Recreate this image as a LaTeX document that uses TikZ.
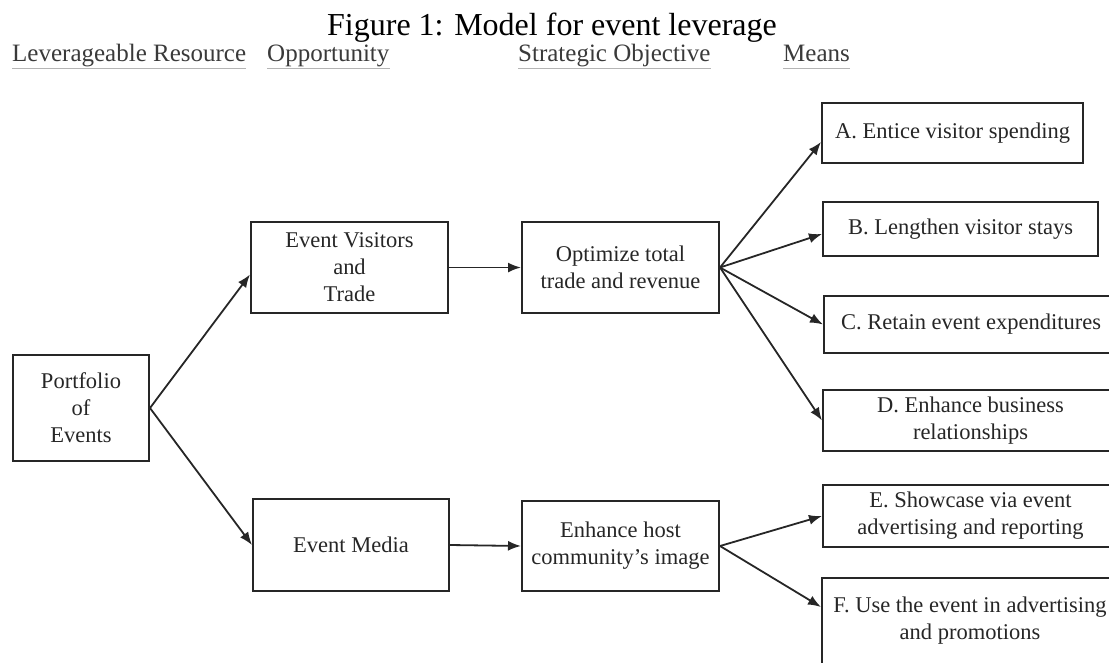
\documentclass[tikz,border=0pt]{standalone}
\usepackage{fontspec}
\setmainfont{Liberation Serif}
\usetikzlibrary{arrows.meta}
\definecolor{boxgray}{HTML}{262626}
\definecolor{headgray}{HTML}{3A3A3A}
\definecolor{rulegray}{HTML}{B4B4B4}

\begin{document}
\begin{tikzpicture}[x=1pt,y=-1pt]

      \useasboundingbox (0,0) rectangle (1109,662);
      \clip (0,0) rectangle (1109,662);

      \node[anchor=base,font=\fontsize{32}{36}\selectfont] (title) at (552,35) {Figure 1: Model for event leverage};

      \begin{scope}[every node/.style={anchor=base west,inner sep=0pt,text=headgray,font=\fontsize{25}{30}\selectfont}]
        \node (res)  at (12,61)  {Leverageable Resource};
        \node (opp)  at (267,61) {Opportunity};
        \node (obj)  at (518,61) {Strategic Objective};
        \node (mean) at (783,61) {Means};
      \end{scope}

      \foreach \h in {res,opp,obj,mean}
        \draw[rulegray,line width=0.8pt] ([yshift=-7pt]\h.base west) -- ([yshift=-7pt]\h.base east);

      \begin{scope}[every node/.style={rectangle,draw=boxgray,line width=2pt,align=center,inner sep=0pt,text=black!85,font=\fontsize{22.5}{27}\selectfont}]
        \node[minimum width=136pt,minimum height=106pt] (port)  at (81,408)    {Portfolio\\of\\Events};
        \node[minimum width=197pt,minimum height=91pt]  (visit) at (349.5,267.5) {Event Visitors\\and\\Trade};
        \node[minimum width=196pt,minimum height=92pt]  (media) at (351,545)   {Event Media};
        \node[minimum width=197pt,minimum height=91pt]  (trade) at (620.5,267.5) {Optimize total\\trade and revenue};
        \node[minimum width=197pt,minimum height=90pt]  (image) at (620.5,546) {Enhance host\\community’s image};
        \node[minimum width=261pt,minimum height=60pt]  (a) at (952.5,133)   {A. Entice visitor spending};
        \node[minimum width=275pt,minimum height=54pt]  (b) at (960.5,229)   {B. Lengthen visitor stays};
        \node[minimum width=294pt,minimum height=57pt]  (c) at (971,324.5)   {C. Retain event expenditures};
        \node[minimum width=295pt,minimum height=61pt]  (d) at (970.5,420.5) {D. Enhance business\\relationships};
        \node[minimum width=295pt,minimum height=62pt]  (e) at (970.5,516)   {E. Showcase via event\\advertising and reporting};
        \node[minimum width=296pt,minimum height=86pt]  (f) at (970,621)     {F. Use the event in advertising\\and promotions};
      \end{scope}

      \begin{scope}[every edge/.style={draw=boxgray,line width=1.8pt,-{Latex[length=13pt,width=10pt]}}]
        \path (port.east)  edge ([yshift=-7pt]visit.west);
        \path (port.east)  edge (media.west);
        \path (visit.east) edge (trade.west);
        \path (media.east) edge (image.west);
        \path (trade.east) edge ([yshift=-9pt]a.west);
        \path (trade.east) edge ([yshift=-5pt]b.west);
        \path (trade.east) edge (c.west);
        \path (trade.east) edge (d.west);
        \path (image.east) edge (e.west);
        \path (image.east) edge ([yshift=14pt]f.west);
      \end{scope}

    \end{tikzpicture}
\end{document}
